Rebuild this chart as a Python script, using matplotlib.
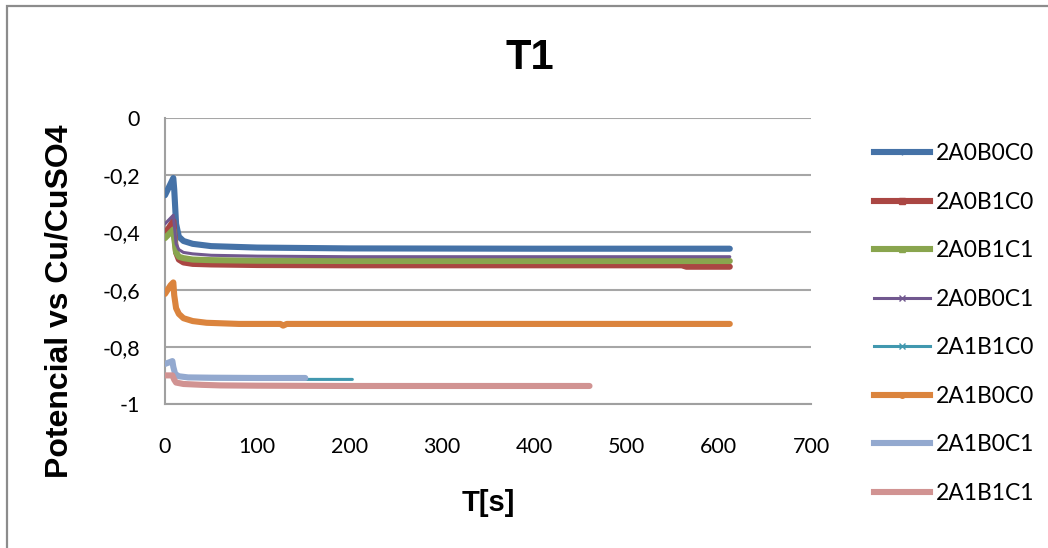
import matplotlib
matplotlib.use("Agg")
import matplotlib.pyplot as plt
from matplotlib.lines import Line2D
from matplotlib.patches import Rectangle
from matplotlib.ticker import FuncFormatter

# === DATA: potential vs time for each sample ===
labels = ["2A0B0C0", "2A0B1C0", "2A0B1C1", "2A0B0C1",
          "2A1B1C0", "2A1B0C0", "2A1B0C1", "2A1B1C1"]

t_2A0B0C0 = [0, 3, 6, 9, 10, 12, 15, 20, 30, 50, 100, 200, 400, 612]
v_2A0B0C0 = [-0.27, -0.25, -0.23, -0.21, -0.25, -0.37, -0.415, -0.43, -0.44, -0.448,
             -0.453, -0.456, -0.457, -0.457]

t_2A0B1C0 = [0, 3, 6, 9, 10, 12, 15, 20, 30, 50, 100, 200, 400, 560, 565, 612]
v_2A0B1C0 = [-0.40, -0.39, -0.375, -0.36, -0.40, -0.47, -0.495, -0.505, -0.51, -0.512,
             -0.514, -0.515, -0.515, -0.515, -0.52, -0.52]

t_2A0B1C1 = [0, 3, 6, 9, 10, 12, 15, 20, 30, 50, 100, 200, 400, 612]
v_2A0B1C1 = [-0.42, -0.41, -0.40, -0.39, -0.42, -0.47, -0.485, -0.49, -0.495, -0.497,
             -0.499, -0.50, -0.50, -0.50]

t_2A0B0C1 = [0, 3, 6, 9, 10, 12, 15, 20, 30, 50, 100, 200, 400, 612]
v_2A0B0C1 = [-0.37, -0.36, -0.35, -0.34, -0.37, -0.44, -0.46, -0.47, -0.475, -0.48,
             -0.483, -0.485, -0.485, -0.485]

t_2A1B1C0 = [0, 4, 8, 9, 11, 15, 25, 50, 100, 150, 203]
v_2A1B1C0 = [-0.86, -0.855, -0.85, -0.87, -0.895, -0.905, -0.91, -0.912, -0.913, -0.914, -0.914]

t_2A1B0C0 = [0, 3, 6, 9, 10, 12, 15, 20, 30, 45, 80, 125, 128, 132, 200, 400, 612]
v_2A1B0C0 = [-0.615, -0.60, -0.585, -0.575, -0.62, -0.665, -0.685, -0.70, -0.71, -0.716,
             -0.72, -0.72, -0.726, -0.72, -0.72, -0.72, -0.72]

t_2A1B0C1 = [0, 4, 8, 9, 11, 15, 25, 50, 100, 152]
v_2A1B0C1 = [-0.86, -0.855, -0.85, -0.87, -0.895, -0.903, -0.907, -0.908, -0.909, -0.909]

t_2A1B1C1 = [0, 4, 8, 10, 12, 20, 40, 60, 100, 200, 300, 460]
v_2A1B1C1 = [-0.90, -0.90, -0.90, -0.915, -0.925, -0.93, -0.933, -0.935, -0.936, -0.937,
             -0.937, -0.937]

series_t = [t_2A0B0C0, t_2A0B1C0, t_2A0B1C1, t_2A0B0C1,
            t_2A1B1C0, t_2A1B0C0, t_2A1B0C1, t_2A1B1C1]
series_v = [v_2A0B0C0, v_2A0B1C0, v_2A0B1C1, v_2A0B0C1,
            v_2A1B1C0, v_2A1B0C0, v_2A1B0C1, v_2A1B1C1]

# === STYLE ===
colors = ["#4572A7", "#AA4643", "#89A54E", "#71588F",
          "#4198AF", "#DB843D", "#93A9CF", "#D19392"]
widths = [4.4, 4.4, 4.4, 2.2, 2.2, 4.4, 4.4, 4.4]
markers = ["+", "s", "^", "x", "x", "o", ".", "_"]
draw_order = [5, 7, 6, 4, 1, 2, 3, 0]

W, H = 1048, 548
fig = plt.figure(figsize=(W / 100, H / 100), dpi=100)

# outer chart border
fig.patches.append(Rectangle((7 / W, -0.1), 1.2, 1 - 6 / H + 0.1, transform=fig.transFigure,
                             fill=False, edgecolor="#8C8C8C", lw=1.6))

ax = fig.add_axes([165 / W, 1 - 404 / H, (811 - 165) / W, (404 - 118) / H])

for i in draw_order:
    ax.plot(series_t[i], series_v[i], color=colors[i], lw=widths[i],
            solid_capstyle="round", solid_joinstyle="round", zorder=3 + i * 0.01)

ax.set_xlim(0, 700)
ax.set_ylim(-1, 0)
ax.set_xticks(range(0, 701, 100))
ax.set_yticks([0, -0.2, -0.4, -0.6, -0.8, -1])
ax.yaxis.set_major_formatter(FuncFormatter(lambda y, p: ("%g" % y).replace(".", ",")))
ax.grid(axis="y", color="#A6A6A6", lw=1.5)
ax.set_axisbelow(True)
for s in ["top", "right"]:
    ax.spines[s].set_visible(False)
for s in ["left", "bottom"]:
    ax.spines[s].set_color("#A0A0A0")
    ax.spines[s].set_linewidth(1.5)
ax.tick_params(length=0, labelsize=15.5)
ax.tick_params(axis="y", pad=18)
ax.tick_params(axis="x", pad=24)
for lab in ax.get_xticklabels() + ax.get_yticklabels():
    lab.set_family("Lato")

fig.text(530 / W, 1 - 58 / H, "T1", fontsize=30, fontweight="bold",
         family="Liberation Sans", ha="center", va="center")
fig.text(488 / W, 1 - 503 / H, "T[s]", fontsize=21, fontweight="bold",
         family="Liberation Sans", ha="center", va="center")
fig.text(60 / W, 1 - 301 / H, "Potencial vs Cu/CuSO4", fontsize=23, fontweight="bold",
         family="Liberation Sans", ha="center", va="center", rotation=90)

# legend
handles = [Line2D([], [], color=colors[i], lw=widths[i], marker=markers[i], markersize=4,
                  markeredgewidth=1) for i in range(len(labels))]
fig.legend(handles, labels, loc="upper left", bbox_to_anchor=(865 / W, 1 - 134 / H),
           frameon=False, prop={"family": "Lato", "size": 16.5}, handlelength=2.45,
           handletextpad=0.25, labelspacing=1.2, borderaxespad=0)

fig.savefig("out.png", dpi=100)
